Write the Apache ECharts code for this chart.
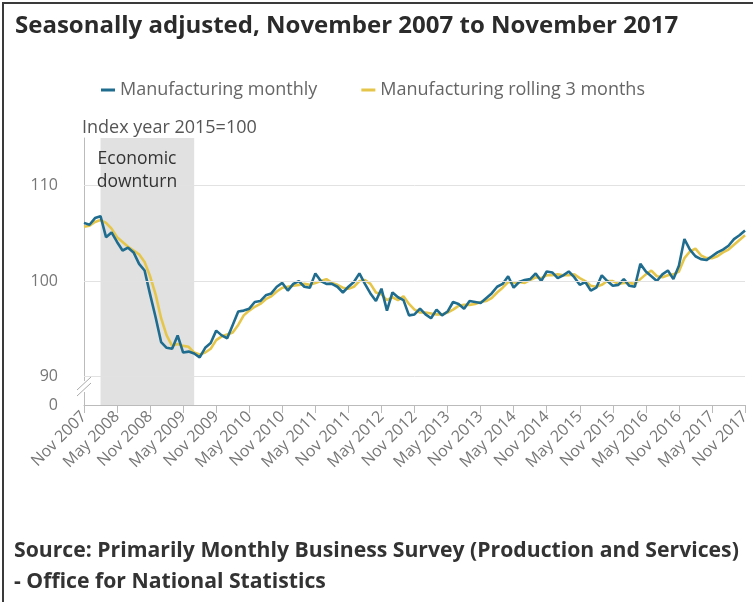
<!DOCTYPE html>
<html>
<head>
<meta charset="utf-8">
<script src="https://cdn.jsdelivr.net/npm/echarts@6/dist/echarts.min.js"></script>
<style>
html,body{margin:0;padding:0;background:#fff;}
#chart{width:753px;height:602px;}
</style>
</head>
<body>
<div id="chart"></div>
<script>
// ---- Data ----
const monthNames = ['Jan','Feb','Mar','Apr','May','Jun','Jul','Aug','Sep','Oct','Nov','Dec'];
const categories = [];
for (let k = 0; k <= 120; k++) {
  const m = (10 + k) % 12;
  const y = 2007 + Math.floor((10 + k) / 12);
  categories.push(monthNames[m] + ' ' + y);
}

const manufacturingMonthly = [
  106.1,105.9,106.6,106.8,104.6,105.1,104.1,103.2,103.5,103.0,
  101.8,101.1,98.6,96.2,93.6,93.0,92.9,94.3,92.5,92.6,
  92.4,92.0,93.0,93.5,94.8,94.3,94.0,95.4,96.8,96.9,
  97.1,97.8,97.9,98.5,98.7,99.4,99.8,99.0,99.7,100.0,
  99.4,99.3,100.8,100.0,99.7,99.7,99.4,98.8,99.4,99.9,
  100.8,99.7,98.7,97.9,99.2,96.9,98.8,98.3,98.0,96.4,
  96.5,97.1,96.5,96.1,97.0,96.4,96.8,97.8,97.6,97.1,
  97.9,97.8,97.7,98.2,98.7,99.4,99.7,100.5,99.3,99.9,
  100.1,100.2,100.8,100.0,101.0,100.9,100.3,100.6,101.0,100.4,
  99.6,99.9,99.0,99.3,100.6,100.0,99.5,99.6,100.2,99.5,
  99.4,101.8,101.0,100.5,100.0,100.7,101.1,100.2,101.6,104.4,
  103.3,102.6,102.3,102.2,102.6,103.0,103.3,103.7,104.4,104.8,
  105.3
];

const manufacturingRolling3 = [
  105.7,105.8,106.2,106.4,106.1,105.5,104.6,104.1,103.6,103.2,
  102.8,102.0,100.5,98.6,96.1,94.3,93.2,93.4,93.2,93.1,
  92.5,92.3,92.5,92.9,93.8,94.2,94.4,94.6,95.4,96.4,
  96.9,97.3,97.6,98.1,98.4,98.9,99.3,99.4,99.5,99.6,
  99.7,99.6,99.8,100.0,100.2,99.8,99.6,99.3,99.2,99.4,
  100.0,100.1,99.7,98.8,98.6,98.0,98.3,98.0,98.4,97.6,
  97.0,96.7,96.7,96.6,96.5,96.5,96.7,97.0,97.4,97.5,
  97.5,97.6,97.8,97.9,98.2,98.8,99.3,99.9,99.8,99.9,
  99.8,100.1,100.4,100.3,100.6,100.6,100.7,100.6,100.6,100.7,
  100.3,100.0,99.5,99.4,99.6,100.0,100.0,99.7,99.8,99.8,
  99.7,100.2,100.7,101.1,100.5,100.4,100.6,100.7,101.0,102.4,
  103.1,103.4,102.7,102.4,102.4,102.6,103.0,103.3,103.8,104.3,
  104.8
];

const gridValues = [90, 100, 110];
const yAxisMin = 87;      // shown as "0" (broken axis)
const yAxisMax = 115;
const downturnStart = 'Feb 2008';
const downturnEnd = 'Jul 2009';
const downturnText = 'Economic\ndownturn';

const titleText = 'Seasonally adjusted, November 2007 to November 2017';
const sourceLine1 = 'Source: Primarily Monthly Business Survey (Production and Services)';
const sourceLine2 = '- Office for National Statistics';

const tealColor = '#1f6c8e';
const yellowColor = '#e5c64a';
const font = '"Open Sans", "Noto Sans", sans-serif';

const chart = echarts.init(document.getElementById('chart'));
chart.setOption({
  backgroundColor: '#fff',
  animation: false,
  title: [{
    text: titleText,
    left: 10, top: 9,
    textStyle: {fontFamily: font, fontSize: 24, fontWeight: 'bold', color: '#2b2b2b'}
  }, {
    text: sourceLine1,
    left: 9, top: 535,
    textStyle: {fontFamily: font, fontSize: 21.2, fontWeight: 'bold', color: '#333'}
  }, {
    text: sourceLine2,
    left: 9, top: 566,
    textStyle: {fontFamily: font, fontSize: 21.2, fontWeight: 'bold', color: '#333'}
  }],
  legend: {
    left: 96, top: 76,
    itemGap: 44,
    itemWidth: 14, itemHeight: 3,
    icon: 'rect',
    textStyle: {fontFamily: font, fontSize: 18, color: '#666'},
    data: ['Manufacturing monthly', 'Manufacturing rolling 3 months']
  },
  grid: {left: 84, right: 8, top: 138, bottom: 197, containLabel: false},
  xAxis: {
    type: 'category',
    data: categories,
    boundaryGap: false,
    axisLine: {lineStyle: {color: '#bbb', width: 1}},
    axisTick: {show: true, interval: 5, length: 8, lineStyle: {color: '#bbb'}},
    axisLabel: {interval: 5, rotate: 45, fontFamily: font, fontSize: 16, color: '#777', margin: 9},
    splitLine: {show: false}
  },
  yAxis: {
    type: 'value',
    min: yAxisMin, max: yAxisMax, interval: 1,
    name: 'Index year 2015=100',
    nameLocation: 'end',
    nameGap: 1,
    nameTextStyle: {fontFamily: font, fontSize: 18, color: '#555', align: 'left', padding: [0,0,0,-2]},
    axisLine: {show: true, lineStyle: {color: '#bbb'}},
    axisTick: {show: false},
    splitLine: {show: false},
    axisLabel: {
      fontFamily: font, fontSize: 16, color: '#777', margin: 26,
      formatter: function (v) {
        if (v === yAxisMin) return '0';
        return gridValues.indexOf(v) >= 0 ? String(v) : '';
      }
    }
  },
  series: [{
    name: 'Manufacturing monthly',
    type: 'line',
    data: manufacturingMonthly,
    symbol: 'none',
    lineStyle: {color: tealColor, width: 2.6},
    itemStyle: {color: tealColor},
    z: 4
  }, {
    name: 'Manufacturing rolling 3 months',
    type: 'line',
    data: manufacturingRolling3,
    symbol: 'none',
    lineStyle: {color: yellowColor, width: 2.6},
    itemStyle: {color: yellowColor},
    z: 3
  }, {
    name: 'gridlines',
    type: 'line',
    data: [],
    z: 1,
    markLine: {
      silent: true,
      symbol: 'none',
      label: {show: false},
      lineStyle: {color: '#e2e2e2', width: 1, type: 'solid'},
      data: gridValues.map(v => ({yAxis: v}))
    }
  }, {
    name: 'downturn',
    type: 'line',
    data: [],
    z: 2,
    markArea: {
      silent: true,
      itemStyle: {color: '#e1e1e1'},
      label: {show: false},
      data: [[{xAxis: downturnStart}, {xAxis: downturnEnd}]]
    }
  }],
  graphic: [
    // frame (top and left edges)
    {type: 'rect', left: 2, top: 2, shape: {width: 760, height: 2}, style: {fill: '#3a3a3a'}},
    {type: 'rect', left: 2, top: 2, shape: {width: 2, height: 610}, style: {fill: '#3a3a3a'}},
    // axis break marker
    {type: 'rect', left: 80, top: 381, shape: {width: 8, height: 11}, style: {fill: '#fff'}, z: 50},
    {type: 'line', shape: {x1: 77, y1: 390, x2: 91, y2: 377}, style: {stroke: '#aaa', lineWidth: 1}, z: 51},
    {type: 'line', shape: {x1: 77, y1: 396, x2: 91, y2: 383}, style: {stroke: '#aaa', lineWidth: 1}, z: 51},
    // downturn annotation
    {type: 'text', x: 137, y: 148, z: 100,
      style: {text: downturnText, fill: '#333', font: '17.5px ' + font, align: 'center', lineHeight: 23}}
  ]
});
</script>
</body>
</html>
